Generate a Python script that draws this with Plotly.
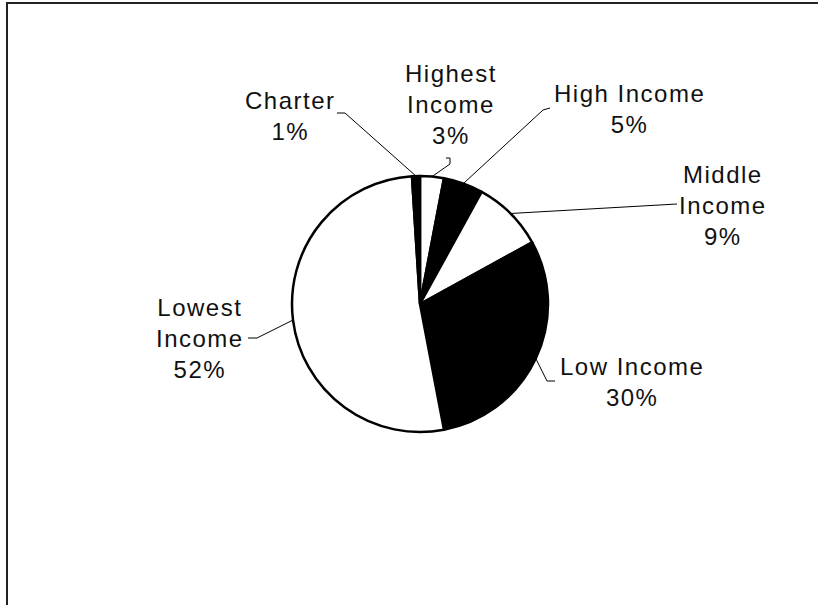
import math
import plotly.graph_objects as go

# Share of schools by category (clockwise from 12 o'clock)
categories = ["Highest Income", "High Income", "Middle Income", "Low Income", "Lowest Income", "Charter"]
shares = [3, 5, 9, 30, 52, 1]
slice_colors = ["white", "black", "white", "black", "white", "black"]

# Label text lines per category
label_lines = {
    "Highest Income": ["Highest", "Income"],
    "High Income": ["High Income"],
    "Middle Income": ["Middle", "Income"],
    "Low Income": ["Low Income"],
    "Lowest Income": ["Lowest", "Income"],
    "Charter": ["Charter"],
}

W, H = 818, 605
CX, CY, R = 420, 304, 128

# label block centres and leader-line elbows (pixel coordinates)
label_pos = {
    "Highest Income": (451, 104),
    "High Income": (629, 109),
    "Middle Income": (723, 205),
    "Low Income": (632, 382),
    "Lowest Income": (200, 338),
    "Charter": (290, 116),
}
leader_elbows = {
    "Highest Income": [(450, 164), (450, 158), (446, 158)],
    "High Income": [(543, 110), (550, 108)],
    "Middle Income": [(677, 204)],
    "Low Income": [(547, 381), (555, 381)],
    "Lowest Income": [(257, 338), (248, 338)],
    "Charter": [(345, 113), (337, 113)],
}

fig = go.Figure()

fig.add_trace(go.Pie(
    labels=categories,
    values=shares,
    sort=False,
    direction="clockwise",
    rotation=0,
    marker=dict(colors=slice_colors, line=dict(color="black", width=2.5)),
    textinfo="none",
    hoverinfo="label+percent",
    showlegend=False,
    domain=dict(x=[(CX - R) / W, (CX + R) / W],
                y=[(H - CY - R) / H, (H - CY + R) / H]),
))

total = sum(shares)
cum = 0
for cat, v in zip(categories, shares):
    mid = (cum + v / 2) / total * 2 * math.pi
    cum += v
    ex = CX + R * math.sin(mid)
    ey = CY - R * math.cos(mid)
    pts = [(ex, ey)] + leader_elbows[cat]
    fig.add_trace(go.Scatter(
        x=[p[0] for p in pts], y=[p[1] for p in pts],
        mode="lines", line=dict(color="black", width=1),
        hoverinfo="skip", showlegend=False,
    ))
    pct = round(v / total * 100)
    lines = label_lines[cat] + [f"{pct}%"]
    text = "<br>".join(f'<span style="letter-spacing:1.5px">{ln}</span>' for ln in lines)
    lx, ly = label_pos[cat]
    fig.add_annotation(
        x=lx, y=ly, xref="x", yref="y", text=text, showarrow=False,
        xanchor="center", yanchor="middle", align="center",
        font=dict(family="Liberation Sans, Arial, sans-serif", size=24, color="#111111"),
    )

# chart frame
fig.add_shape(type="path", path=f"M 7 {H} L 7 3 L {W} 3",
              xref="x", yref="y", line=dict(color="#222222", width=2))

fig.update_layout(
    width=W, height=H,
    margin=dict(l=0, r=0, t=0, b=0),
    paper_bgcolor="white", plot_bgcolor="white",
    xaxis=dict(range=[0, W], visible=False, fixedrange=True),
    yaxis=dict(range=[H, 0], visible=False, fixedrange=True),
)

fig.write_html("out.html")
